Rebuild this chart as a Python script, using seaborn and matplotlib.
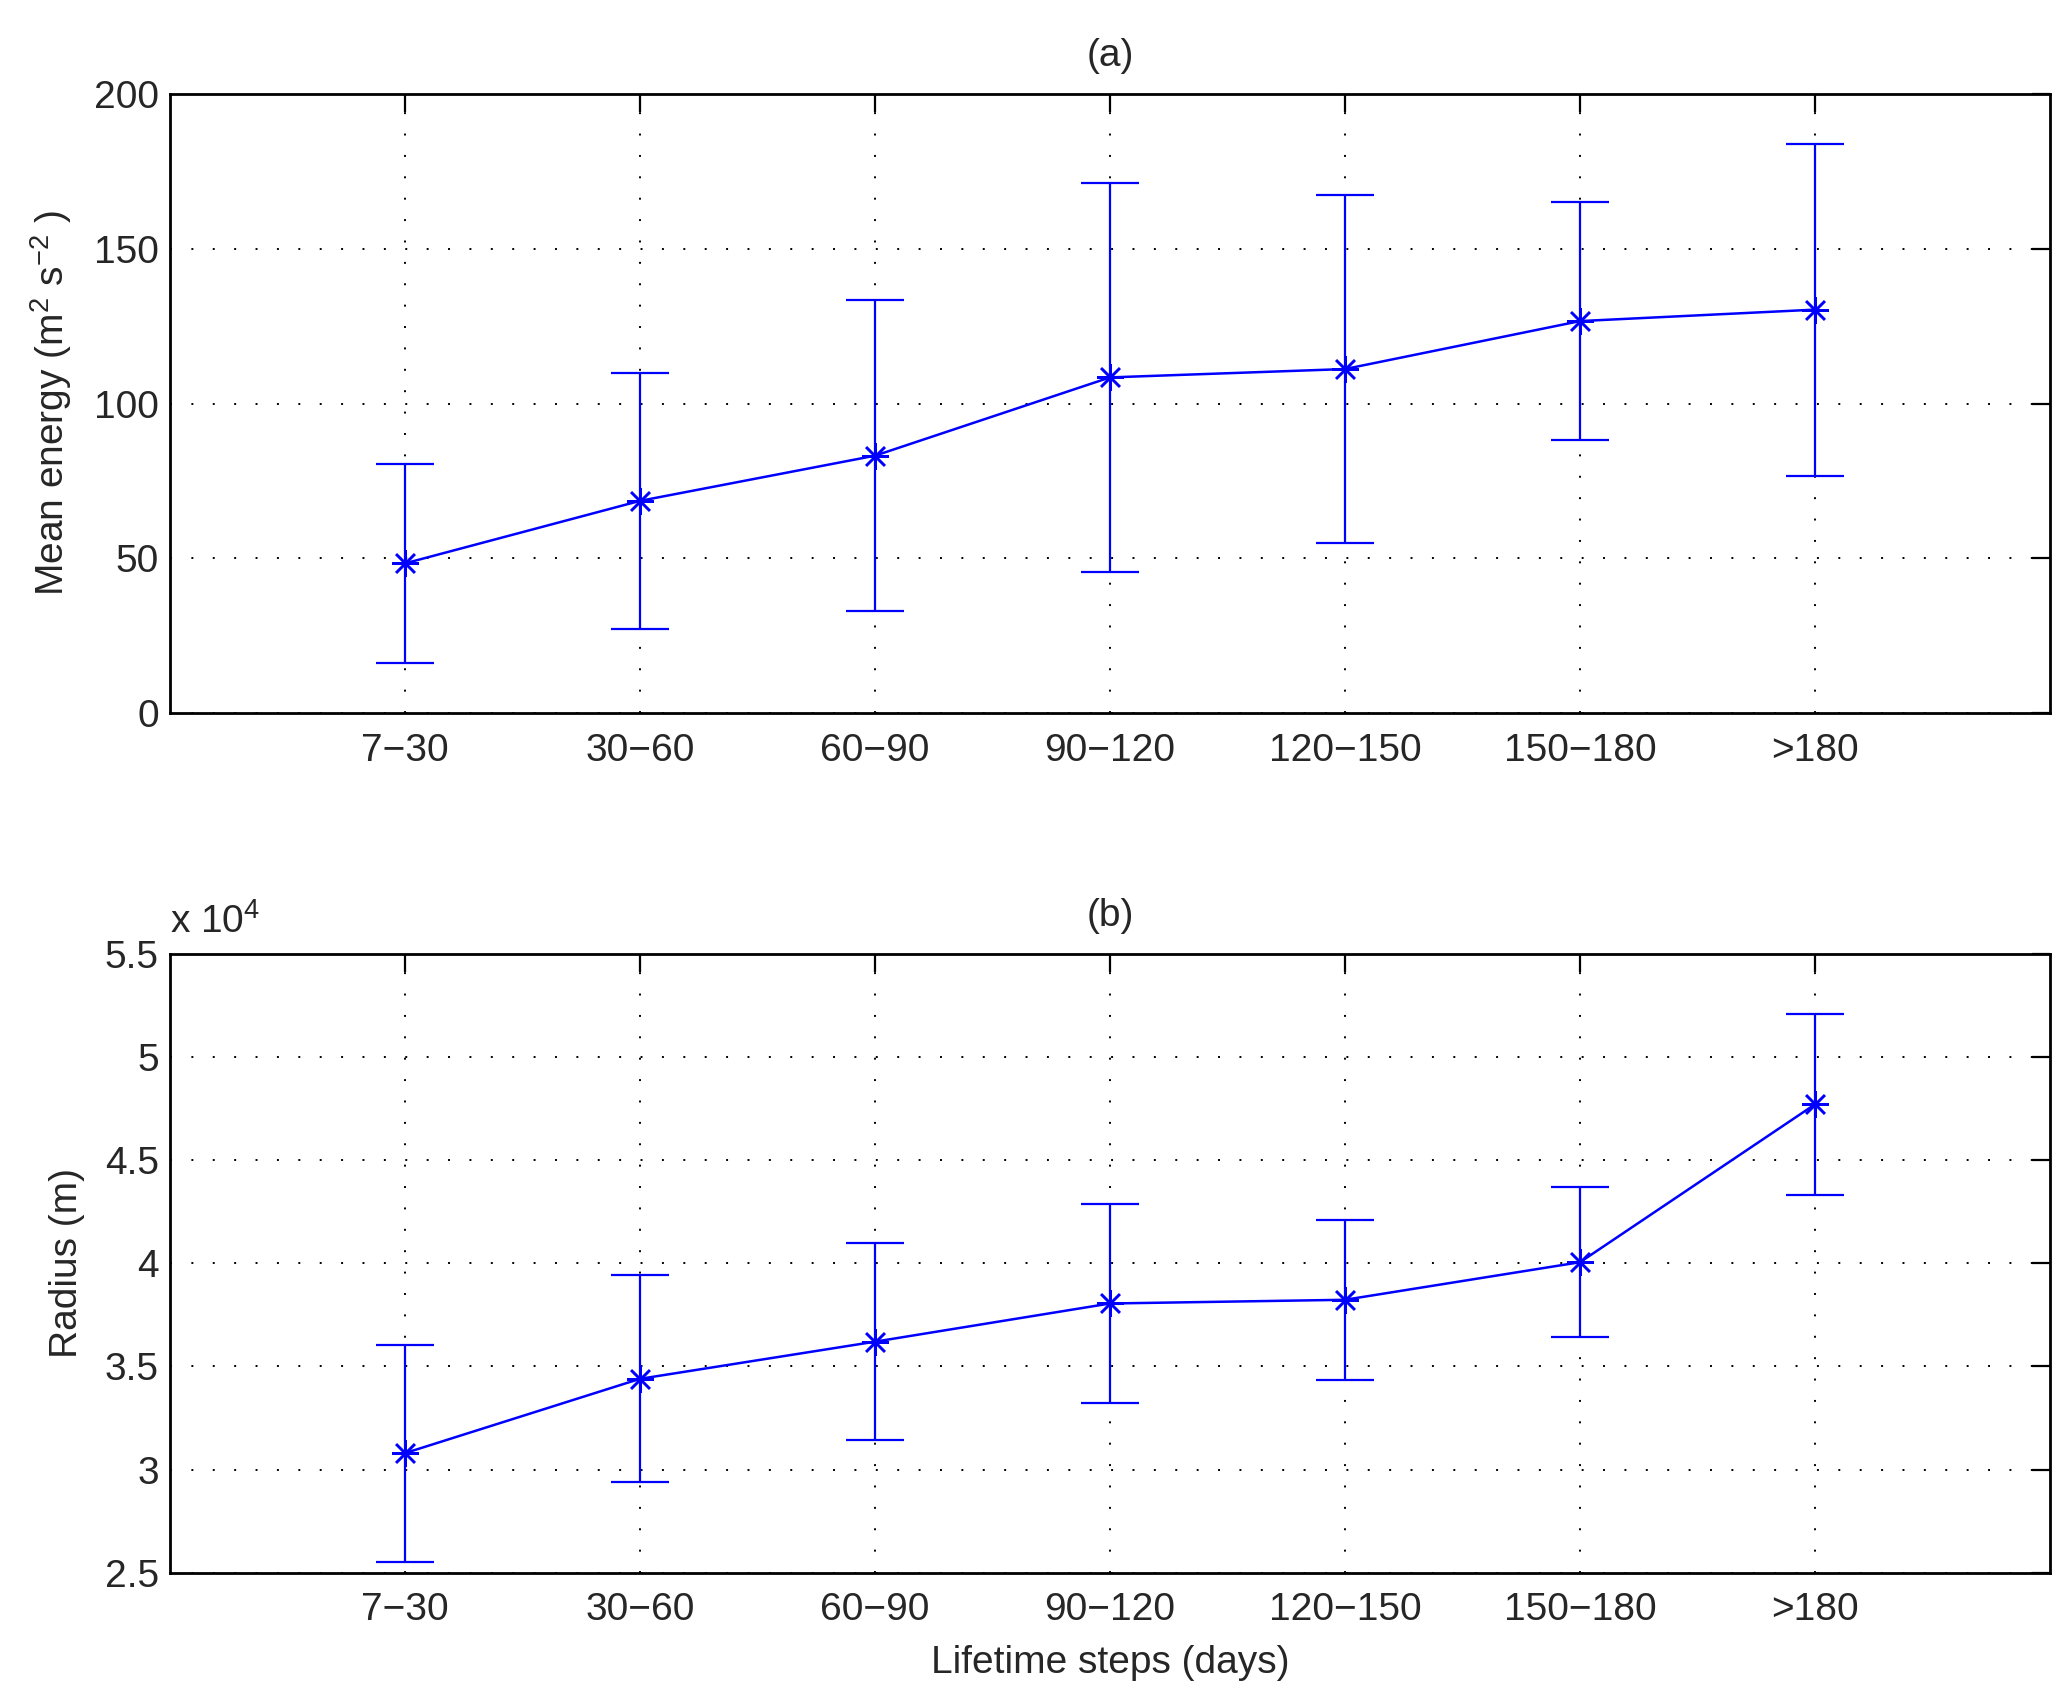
import numpy as np
import matplotlib
matplotlib.use("Agg")
import matplotlib.pyplot as plt
import seaborn as sns
from matplotlib.ticker import FuncFormatter

# lifetime classes
categories = ["7\u221230", "30\u221260", "60\u221290", "90\u2212120",
              "120\u2212150", "150\u2212180", ">180"]

# (a) mean energy and its spread
energy_mean = [48.4, 68.6, 83.2, 108.5, 111.2, 126.7, 130.4]
energy_std = [32.1, 41.4, 50.3, 62.9, 56.1, 38.5, 53.6]

# (b) radius in metres and its spread
radius_mean = [30800, 34400, 36200, 38050, 38230, 40050, 47700]
radius_std = [5260, 5010, 4780, 4830, 3870, 3640, 4390]

sns.set_style("white")
plt.rcParams['font.family'] = ['Liberation Sans', 'DejaVu Sans']
plt.rcParams['mathtext.fontset'] = 'custom'
plt.rcParams['mathtext.rm'] = 'Liberation Sans'
plt.rcParams['mathtext.it'] = 'Liberation Sans'

FS = 28
blue = '#0000ff'
pos = np.arange(1, len(categories) + 1)

fig = plt.figure(figsize=(20.67, 16.92), dpi=100)
ax_a = fig.add_axes([0.0822, 0.5785, 0.9096, 0.3658])
ax_b = fig.add_axes([0.0822, 0.0704, 0.9096, 0.3660])


def draw_panel(ax, means, stds, title):
    ax.errorbar(pos, means, yerr=stds, fmt='none', ecolor=blue,
                elinewidth=1.6, capsize=21, capthick=1.6, zorder=3)
    # matlab-like asterisk: four crossing strokes
    sns.lineplot(x=pos, y=means, ax=ax, color=blue, marker=(8, 2, 0),
                 markersize=19, markeredgecolor=blue, markeredgewidth=1.8,
                 linewidth=1.8, zorder=4)
    ax.set_xlim(0, 8)
    ax.set_xticks(pos)
    ax.set_xticklabels(categories)
    ax.grid(True, color='black', linestyle=(0, (1, 10)), linewidth=1.4)
    ax.tick_params(axis='both', which='major', direction='in', length=13,
                   width=1.6, labelsize=FS, top=True, right=True, color='black')
    ax.tick_params(axis='x', pad=14)
    ax.tick_params(axis='y', pad=8)
    for sp in ax.spines.values():
        sp.set_visible(True)
        sp.set_color('black')
        sp.set_linewidth(2.0)
    ax.set_title(title, fontsize=FS, pad=20)


draw_panel(ax_a, energy_mean, energy_std, '(a)')
ax_a.set_ylim(0, 200)
ax_a.set_yticks([0, 50, 100, 150, 200])
ax_a.set_ylabel('Mean energy (m$^{2}$ s$^{-2}$ )', fontsize=FS, labelpad=14)

draw_panel(ax_b, radius_mean, radius_std, '(b)')
ax_b.set_ylim(25000, 55000)
ax_b.set_yticks(np.arange(25000, 55001, 5000))
ax_b.yaxis.set_major_formatter(FuncFormatter(lambda v, p: '%g' % (v / 1e4)))
ax_b.set_ylabel('Radius (m)', fontsize=FS, labelpad=14)
ax_b.set_xlabel('Lifetime steps (days)', fontsize=FS, labelpad=12)
ax_b.text(0.0, 1.02, 'x 10$^{4}$', transform=ax_b.transAxes,
          fontsize=FS, ha='left', va='bottom')

fig.savefig('out.png', dpi=100, facecolor='white')
